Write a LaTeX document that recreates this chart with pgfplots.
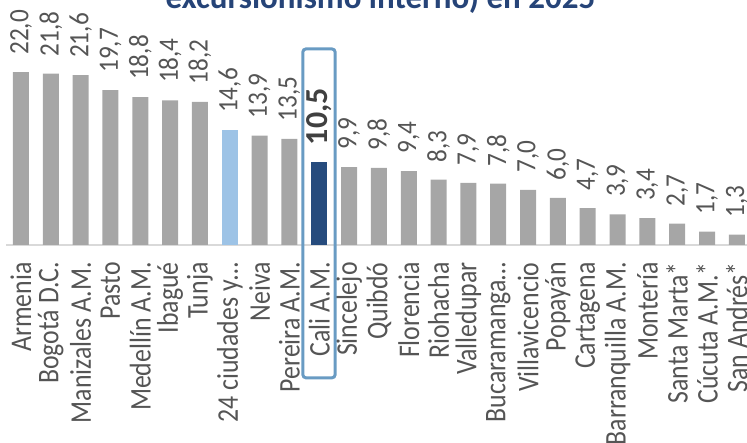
\documentclass[border=0pt]{standalone}
\usepackage{fontspec}
\setmainfont{Carlito}
\newfontfamily\labfont[FakeStretch=0.86]{Carlito}
\newfontfamily\valfont[FakeStretch=0.9]{Carlito}
\usepackage{pgfplots}
\pgfplotsset{compat=1.18}
\definecolor{barGray}{RGB}{166,166,166}
\definecolor{lightBlue}{RGB}{157,195,230}
\definecolor{caliBlue}{RGB}{38,75,125}
\definecolor{titleBlue}{RGB}{38,68,120}
\definecolor{boxBlue}{RGB}{105,155,195}
\definecolor{axisGray}{RGB}{217,217,217}
\definecolor{labGray}{RGB}{85,85,85}

\begin{document}
\begin{tikzpicture}
\begin{axis}[
  scale only axis, width=372.9pt, height=122.5pt,
  xmin=-0.5, xmax=24.5, ymin=0, ymax=31.17,
  ybar, bar width=8pt, bar shift=0pt,
  axis y line=none, axis x line*=bottom,
  x axis line style={draw=axisGray, line width=0.8pt, -},
  major tick length=0pt,
  xtick={0,...,24},
  xticklabels={Armenia, Bogotá D.C., Manizales A.M., Pasto, Medellín A.M., Ibagué, Tunja,
    24 ciudades y…, Neiva, Pereira A.M., Cali A.M., Sincelejo, Quibdó, Florencia, Riohacha,
    Valledupar, Bucaramanga…, Villavicencio, Popayán, Cartagena, Barranquilla A.M.,
    Montería, Santa Marta*, Cúcuta A.M.*, San Andrés*},
  xticklabel style={rotate=90, anchor=east, font=\labfont\fontsize{15}{18}\selectfont,
    text=labGray, inner xsep=8.5pt, inner ysep=0pt},
  nodes near coords,
  every node near coord/.append style={rotate=90, anchor=west,
    font=\valfont\fontsize{14}{17}\selectfont, text=labGray, inner xsep=8.5pt, inner ysep=0pt},
  /pgf/number format/fixed,
  /pgf/number format/fixed zerofill,
  /pgf/number format/precision=1,
  /pgf/number format/use comma,
  /pgf/number format/assume math mode=true,
  clip=false,
]
% gray cities
\addplot[fill=barGray, draw=none] coordinates {
  (0,22.0)(1,21.8)(2,21.6)(3,19.7)(4,18.8)(5,18.4)(6,18.2)
  (8,13.9)(9,13.5)(11,9.9)(12,9.8)(13,9.4)(14,8.3)(15,7.9)(16,7.8)
  (17,7.0)(18,6.0)(19,4.7)(20,3.9)(21,3.4)(22,2.7)(23,1.7)(24,1.3)
};
% 24 ciudades total
\addplot[fill=lightBlue, draw=none] coordinates {(7,14.6)};
% Cali
\addplot[fill=caliBlue, draw=none,
  every node near coord/.append style={font=\bfseries\fontsize{16}{19}\selectfont, text=black!75}]
  coordinates {(10,10.5)};

\draw[boxBlue, line width=1.5pt, rounded corners=1.5pt]
  (axis cs:9.45,24.94) rectangle (axis cs:10.53,-16.9);
\node[anchor=base, font=\bfseries\fontsize{16.5}{20}\selectfont, text=titleBlue]
  at (axis cs:12.05,30.15) {excursionismo interno) en 2025};

\coordinate (bbA) at (axis cs:-0.704,-25.19);
\coordinate (bbB) at (axis cs:24.34,31.17);
\end{axis}
\pgfresetboundingbox
\useasboundingbox (bbA) rectangle (bbB);
\end{tikzpicture}
\end{document}
